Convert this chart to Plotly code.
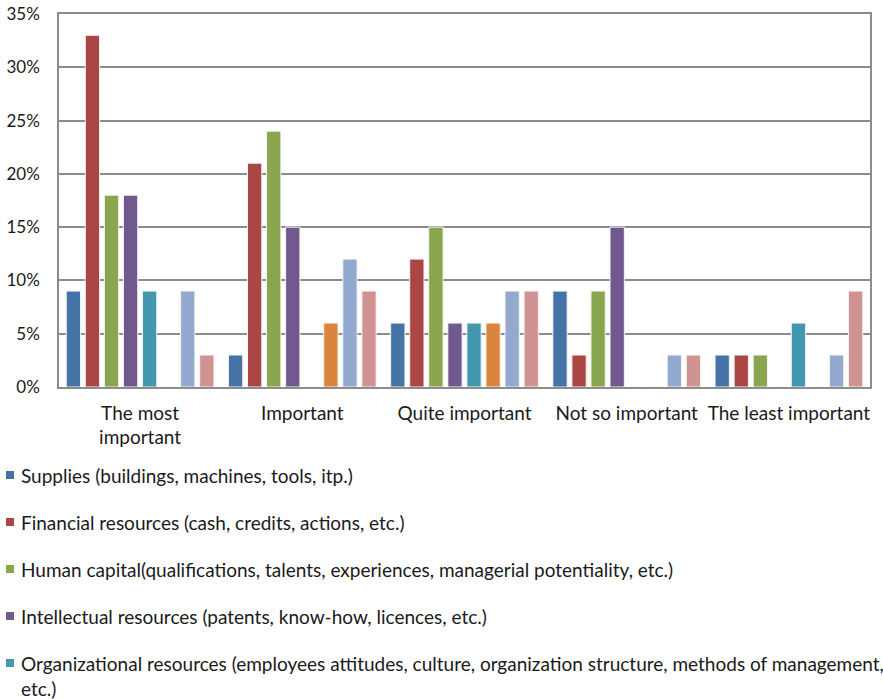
import plotly.graph_objects as go

categories = ["The most<br>important", "Important", "Quite important",
              "Not so important", "The least important"]

series_names = [
    "Supplies (buildings, machines, tools, itp.)",
    "Financial resources (cash, credits, actions, etc.)",
    "Human capital(qualifications, talents, experiences, managerial potentiality, etc.)",
    "Intellectual resources (patents, know-how, licences, etc.)",
    "Organizational resources (employees attitudes, culture, organization structure, methods of management,<br>etc.)",
    "Other resources 6",
    "Other resources 7",
    "Other resources 8",
]

supplies = [9, 3, 6, 9, 3]
financial = [33, 21, 12, 3, 3]
human = [18, 24, 15, 9, 3]
intellectual = [18, 15, 6, 15, 0]
organizational = [9, 0, 6, 0, 6]
series6 = [0, 6, 6, 0, 0]
series7 = [9, 12, 9, 3, 3]
series8 = [3, 9, 9, 3, 9]

values = [supplies, financial, human, intellectual, organizational,
          series6, series7, series8]
colors = ["#4572A7", "#AA4643", "#89A54E", "#71588F", "#4198AF",
          "#DB843D", "#93A9CF", "#D19392"]
legend_count = 5  # entries listed in the key below the chart

W, H = 883, 699
ML, MR, MT, MB = 59, 13, 14, 312
PW, PH = W - ML - MR, H - MT - MB


def px_to_paper_x(px):
    return (px - ML) / PW


def px_to_paper_y(py):
    return (H - MB - py) / PH


fig = go.Figure()
for name, vals, col in zip(series_names, values, colors):
    fig.add_trace(go.Bar(
        x=categories, y=[v / 100 for v in vals], name=name,
        marker=dict(color=col, line=dict(color="#F4F4F4", width=1)),
        showlegend=False,
    ))

# Key below the chart: a small colour swatch followed by the series label
font_family = "Lato, 'Open Sans', sans-serif"
row_top, row_step = 475, 47
for i in range(legend_count):
    yc = row_top + i * row_step
    fig.add_shape(
        type="rect", xref="paper", yref="paper",
        x0=px_to_paper_x(6), x1=px_to_paper_x(14),
        y0=px_to_paper_y(yc + 4), y1=px_to_paper_y(yc - 4),
        fillcolor=colors[i], line=dict(width=0),
    )
    multi = "<br>" in series_names[i]
    fig.add_annotation(
        xref="paper", yref="paper",
        x=px_to_paper_x(19),
        y=px_to_paper_y(yc - 13) if multi else px_to_paper_y(yc),
        xanchor="left", yanchor="top" if multi else "middle",
        align="left", showarrow=False, text=series_names[i],
        font=dict(family=font_family, size=19, color="#1a1a1a"),
    )

fig.update_layout(
    width=W, height=H,
    margin=dict(l=ML, r=MR, t=MT, b=MB),
    paper_bgcolor="white", plot_bgcolor="white",
    barmode="group", bargap=0.06, bargroupgap=0.25,
    font=dict(family=font_family, size=19, color="#1a1a1a"),
    showlegend=False,
    xaxis=dict(
        showline=True, linecolor="#8c8c8c", linewidth=1.5, mirror=True,
        showgrid=False, ticks="", tickfont=dict(size=19),
        ticklabelstandoff=8, automargin=False,
    ),
    yaxis=dict(
        range=[0, 0.35], dtick=0.05, tickformat=".0%",
        showline=True, linecolor="#8c8c8c", linewidth=1.5, mirror=True,
        showgrid=True, gridcolor="#8c8c8c", gridwidth=1.5,
        ticks="",
        tickfont=dict(size=17), zeroline=False, ticklabelstandoff=14,
        automargin=False,
    ),
)

fig.write_html("out.html")
